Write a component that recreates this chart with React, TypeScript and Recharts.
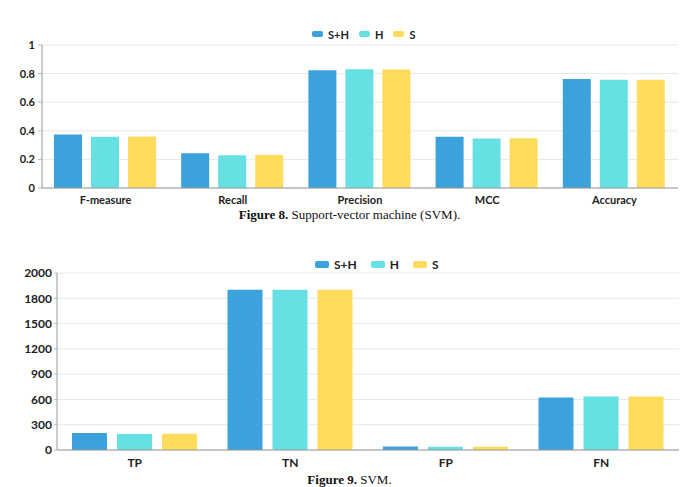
import React from 'react'
import { BarChart, Bar, XAxis, YAxis, CartesianGrid, Legend } from 'recharts'

// Figure 8: metrics
const metricNames = ['F-measure', 'Recall', 'Precision', 'MCC', 'Accuracy']
const metricSH = [0.375, 0.243, 0.824, 0.359, 0.762]
const metricH = [0.359, 0.229, 0.831, 0.347, 0.757]
const metricS = [0.36, 0.23, 0.829, 0.348, 0.757]
const metricTicks = [0, 0.2, 0.4, 0.6, 0.8, 1]

// Figure 9: confusion counts
const countNames = ['TP', 'TN', 'FP', 'FN']
const countSH = [202, 1900, 43, 622]
const countH = [190, 1902, 38, 634]
const countS = [192, 1900, 39, 634]
const countTicks = [0, 300, 600, 900, 1200, 1500, 1800, 2100]
const countTickLabels = ['0', '300', '600', '900', '1200', '1500', '1800', '2000']

const seriesNames = ['S+H', 'H', 'S']
const colors = ['#3ba2db', '#67e0e3', '#ffdb5c']

const metricData = metricNames.map((name, i) => ({
  name,
  'S+H': metricSH[i],
  H: metricH[i],
  S: metricS[i],
}))

const countData = countNames.map((name, i) => ({
  name,
  'S+H': countSH[i],
  H: countH[i],
  S: countS[i],
}))

const FONT = 'Lato, "Open Sans", sans-serif'
const TEXT = '#222'

interface LegendRowProps {
  left: number
  swatchW: number
  swatchH: number
  fontSize: number
  itemGap: number
  height: number
  padBottom: number
}

const LegendRow = ({ left, swatchW, swatchH, fontSize, itemGap, height, padBottom }: LegendRowProps) => (
  <div
    style={{
      display: 'flex',
      alignItems: 'center',
      height,
      paddingLeft: left,
      paddingBottom: padBottom,
      fontFamily: FONT,
      fontWeight: 700,
      fontSize,
      color: TEXT,
    }}
  >
    {seriesNames.map((s, i) => (
      <div key={s} style={{ display: 'flex', alignItems: 'center', marginRight: itemGap }}>
        <span
          style={{
            display: 'inline-block',
            width: swatchW,
            height: swatchH,
            background: colors[i],
            borderRadius: 2,
            marginRight: 5,
          }}
        />
        <span>{s}</span>
      </div>
    ))}
  </div>
)

const caption = (num: string, text: string, top: number) => (
  <div
    style={{
      position: 'absolute',
      left: 0,
      top,
      width: 699,
      textAlign: 'center',
      fontFamily: '"Liberation Serif", serif',
      fontSize: 13,
      lineHeight: '15px',
      color: '#111',
    }}
  >
    <b>{num}</b> {text}
  </div>
)

export default function App() {
  return (
    <div
      style={{
        position: 'absolute',
        left: 0,
        top: 0,
        width: 699,
        height: 487,
        overflow: 'hidden',
        background: '#fff',
      }}
    >
      <div style={{ position: 'absolute', left: 0, top: 0 }}>
        <BarChart
          width={699}
          height={206}
          data={metricData}
          margin={{ top: 27, right: 21, left: 0, bottom: 0 }}
          barCategoryGap={12}
          barGap={9}
        >
          <CartesianGrid vertical={false} stroke="#e8e8e8" />
          <XAxis
            dataKey="name"
            height={18}
            tickLine={false}
            axisLine={{ stroke: '#999' }}
            tick={{ fill: TEXT, fontSize: 11, fontWeight: 700, fontFamily: FONT }}
            tickMargin={2}
          />
          <YAxis
            width={42}
            domain={[0, 1]}
            ticks={metricTicks}
            interval={0}
            tickSize={4}
            tickMargin={3}
            tickLine={{ stroke: '#bbb' }}
            axisLine={{ stroke: '#999' }}
            tick={{ fill: TEXT, fontSize: 11, fontWeight: 700, fontFamily: FONT }}
          />
          <Legend
            verticalAlign="top"
            content={() => (
              <LegendRow left={312} swatchW={11} swatchH={6} fontSize={11} itemGap={10} height={14} padBottom={4} />
            )}
          />
          {seriesNames.map((s, i) => (
            <Bar key={s} dataKey={s} fill={colors[i]} isAnimationActive={false} />
          ))}
        </BarChart>
      </div>

      {caption('Figure 8.', 'Support-vector machine (SVM).', 207)}

      <div style={{ position: 'absolute', left: 0, top: 245 }}>
        <BarChart
          width={699}
          height={225}
          data={countData}
          margin={{ top: 12, right: 20, left: 0, bottom: 0 }}
          barCategoryGap={15}
          barGap={10}
        >
          <CartesianGrid vertical={false} stroke="#e8e8e8" />
          <XAxis
            dataKey="name"
            height={20}
            tickLine={false}
            axisLine={{ stroke: '#999' }}
            tick={{ fill: TEXT, fontSize: 12, fontWeight: 700, fontFamily: FONT }}
            tickMargin={2}
          />
          <YAxis
            width={57}
            domain={[0, 2100]}
            ticks={countTicks}
            interval={0}
            tickSize={3}
            tickMargin={2}
            tickLine={{ stroke: '#bbb' }}
            axisLine={{ stroke: '#999' }}
            tickFormatter={(v: number) => countTickLabels[countTicks.indexOf(v)] ?? String(v)}
            tick={{ fill: TEXT, fontSize: 12, fontWeight: 700, fontFamily: FONT }}
          />
          <Legend
            verticalAlign="top"
            content={() => (
              <LegendRow left={315} swatchW={14} swatchH={7} fontSize={12} itemGap={14} height={14} padBottom={2} />
            )}
          />
          {seriesNames.map((s, i) => (
            <Bar key={s} dataKey={s} fill={colors[i]} isAnimationActive={false} />
          ))}
        </BarChart>
      </div>

      {caption('Figure 9.', 'SVM.', 472)}
    </div>
  )
}
